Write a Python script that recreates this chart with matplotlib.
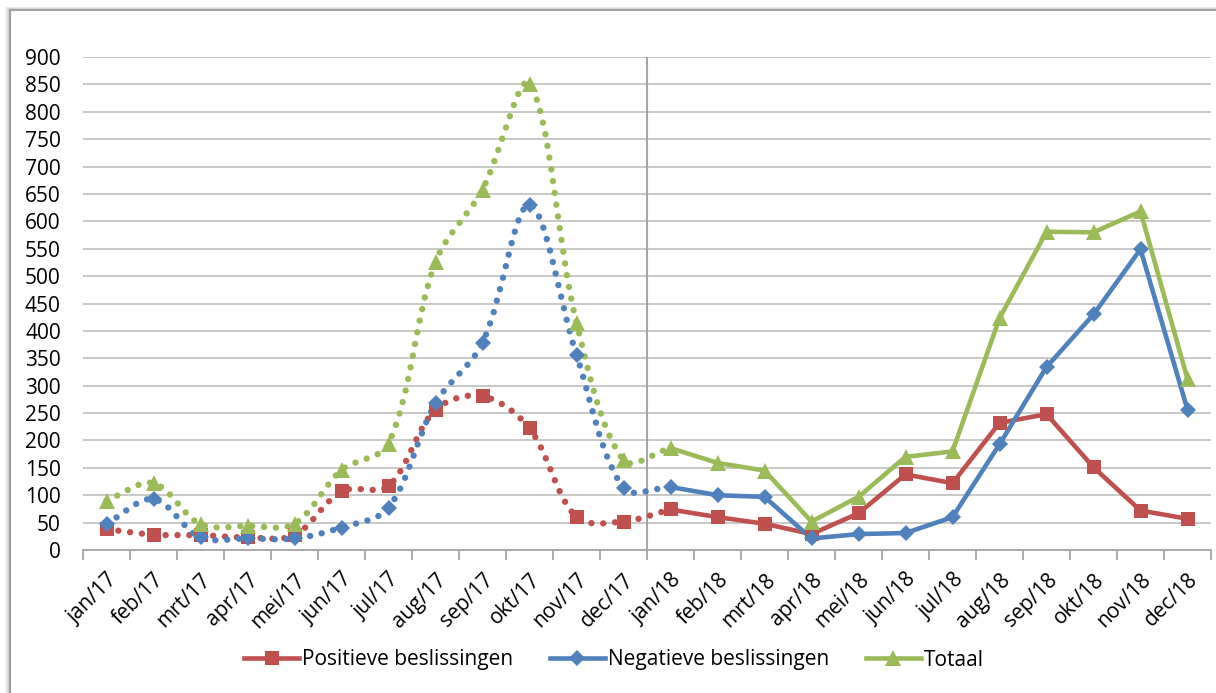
import numpy as np
import matplotlib
matplotlib.use("Agg")
from matplotlib import pyplot as plt
from matplotlib.path import Path
from matplotlib.patches import PathPatch, Rectangle
from matplotlib.lines import Line2D

months = ['jan/17', 'feb/17', 'mrt/17', 'apr/17', 'mei/17', 'jun/17', 'jul/17', 'aug/17',
          'sep/17', 'okt/17', 'nov/17', 'dec/17', 'jan/18', 'feb/18', 'mrt/18', 'apr/18',
          'mei/18', 'jun/18', 'jul/18', 'aug/18', 'sep/18', 'okt/18', 'nov/18', 'dec/18']
positief = [38, 28, 27, 23, 27, 107, 117, 256, 281, 222, 60, 52,
            74, 60, 48, 29, 67, 138, 122, 232, 248, 151, 72, 57]
negatief = [48, 93, 23, 21, 21, 41, 77, 268, 378, 630, 356, 113,
            115, 100, 97, 21, 29, 31, 60, 193, 334, 430, 549, 256]
totaal = [90, 122, 47, 44, 48, 146, 194, 526, 658, 851, 415, 164,
          186, 159, 145, 52, 97, 170, 180, 423, 581, 580, 618, 312]
labels = ['Positieve beslissingen', 'Negatieve beslissingen', 'Totaal']

RED = '#C0504D'
BLUE = '#4F81BD'
GREEN = '#9BBB59'

plt.rcParams['font.family'] = ['Open Sans', 'DejaVu Sans']
plt.rcParams['font.size'] = 15


def smooth_path(ax, xs, ys):
    # excel-like smoothed line: bezier with tangents weighted by on-screen segment length
    pts = np.column_stack([xs, ys]).astype(float)
    scr = ax.transData.transform(pts)
    n = len(pts)
    seg = np.hypot(*np.diff(scr, axis=0).T)
    tang = np.zeros_like(pts)
    for i in range(n):
        tang[i] = pts[min(i + 1, n - 1)] - pts[max(i - 1, 0)]
    verts = [pts[0]]
    codes = [Path.MOVETO]
    for i in range(n - 1):
        d = seg[i]
        d_prev = seg[i - 1] if i > 0 else 0.0
        d_next = seg[i + 1] if i + 1 < n - 1 else 0.0
        c1 = pts[i] + tang[i] * d / (d_prev + d) / 3.0
        c2 = pts[i + 1] - tang[i + 1] * d / (d + d_next) / 3.0
        verts += [c1, c2, pts[i + 1]]
        codes += [Path.CURVE4] * 3
    return Path(verts, codes)


fig = plt.figure(figsize=(12.16, 6.93), dpi=100)
ax = fig.add_axes([83 / 1216, 1 - 550 / 693, 1128 / 1216, 493 / 693])
ax.set_xlim(-0.5, 23.5)
ax.set_ylim(0, 900)

x = np.arange(len(months))
series = [(positief, RED, 's', 10.5), (negatief, BLUE, 'D', 7.8), (totaal, GREEN, '^', 11.5)]
split = 12  # jan/18

for vals, col, mk, ms in series:
    vals = np.array(vals)
    # 2017 part, dotted + smoothed, up to jan/18
    p = smooth_path(ax, x[:split + 1], vals[:split + 1])
    ax.add_patch(PathPatch(p, fill=False, edgecolor=col, lw=4.6,
                           linestyle=(0, (0.01, 1.85)), capstyle='round', zorder=3))
    # 2018 part, solid
    ax.plot(x[split:], vals[split:], color=col, lw=3.3, zorder=3, solid_joinstyle='round')
    ax.plot(x, vals, linestyle='none', marker=mk, markersize=ms, color=col,
            markeredgewidth=0, zorder=4)

ax.axvline(11.5, color='#a6a6a6', lw=1.5, zorder=2)

ax.set_xlim(-0.5, 23.5)
ax.set_ylim(0, 900)
ax.set_yticks(np.arange(0, 901, 50))
ax.yaxis.grid(True, color='#bfbfbf', lw=1.2)
ax.set_axisbelow(True)
ax.tick_params(axis='y', length=0, pad=16)

ax.set_xticks(x)
ax.set_xticklabels(months, rotation=45, ha='right', rotation_mode='anchor')
ax.set_xticks(np.arange(-0.5, 24, 1), minor=True)
ax.tick_params(axis='x', which='major', length=0, pad=14)
ax.tick_params(axis='x', which='minor', length=7, width=1.3, color='#a6a6a6')

for side in ['left', 'right', 'top']:
    ax.spines[side].set_visible(False)
ax.spines['bottom'].set_color('#a6a6a6')
ax.spines['bottom'].set_linewidth(1.3)

handles = [Line2D([], [], color=c, lw=3.3, marker=m, markersize=s, markeredgewidth=0)
           for _, c, m, s in series]
fig.legend(handles, labels, loc='center', bbox_to_anchor=(0.505, 1 - 660 / 693),
           ncol=3, frameon=False, handlelength=2.6, handletextpad=0.15,
           columnspacing=1.8, fontsize=15)

# chart frame with a bit of shadow on the left/top
for k, a in enumerate([0.10, 0.07, 0.05, 0.03]):
    off = (k + 1)
    fig.patches.append(Rectangle(((10 - off) / 1216, -0.1), 1.2, 1.1 - (10 - off * 0.5) / 693,
                                 transform=fig.transFigure, fill=False,
                                 edgecolor='black', alpha=a, lw=1.5))
fig.patches.append(Rectangle((10 / 1216, -0.1), 1.2, 1.1 - 10 / 693,
                             transform=fig.transFigure, fill=False,
                             edgecolor='#a0a0a0', lw=1.5))

plt.savefig('out.png', dpi=100)
